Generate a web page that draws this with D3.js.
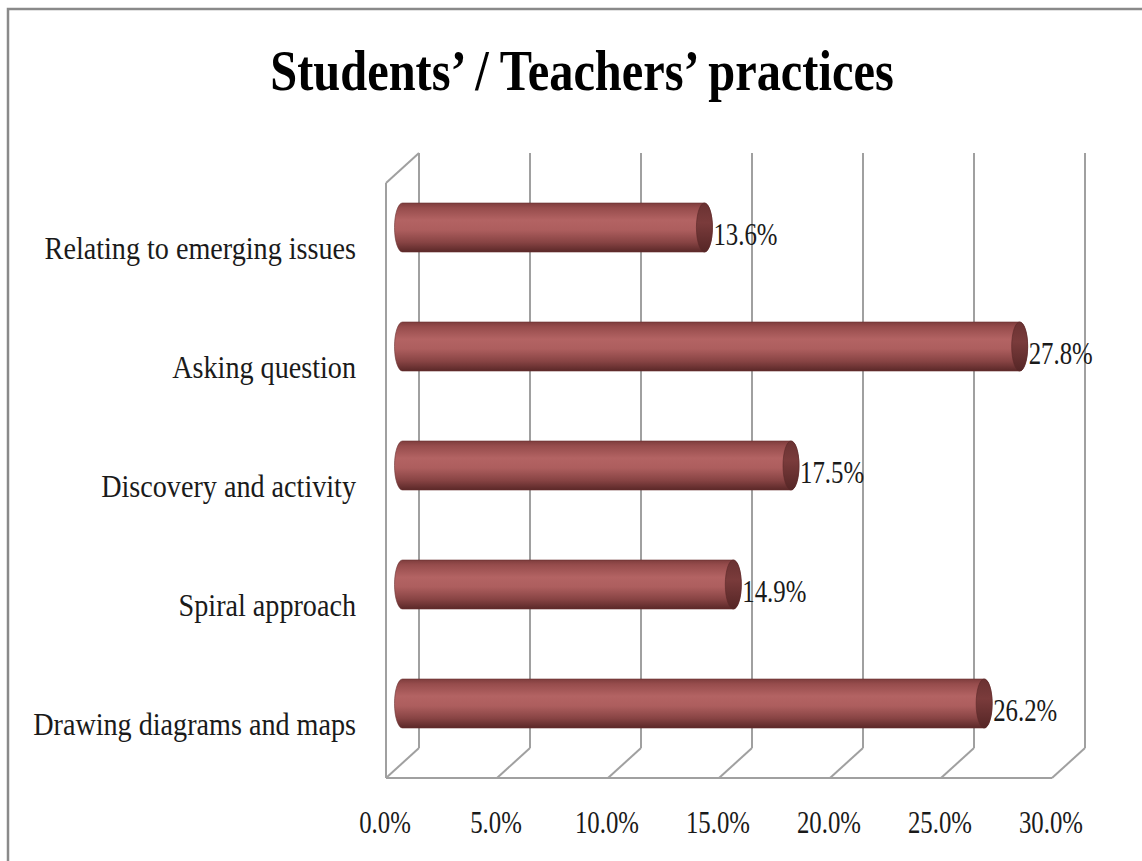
<!DOCTYPE html>
<html>
<head>
<meta charset="utf-8">
<script src="https://cdn.jsdelivr.net/npm/d3@7"></script>
<style>
  html, body { margin: 0; padding: 0; background: #fff; }
  svg { display: block; }
  text { font-family: "Liberation Serif", "DejaVu Serif", serif; fill: #1a1a1a; }
</style>
</head>
<body>
<script>
const title = "Students\u2019 / Teachers\u2019 practices";
const categories = [
  "Relating to emerging issues",
  "Asking question",
  "Discovery and activity",
  "Spiral approach",
  "Drawing diagrams and maps"
];
const values = [13.6, 27.8, 17.5, 14.9, 26.2];
const tickValues = [0, 5, 10, 15, 20, 25, 30];

const W = 1142, H = 861;
const svg = d3.select("body").append("svg").attr("width", W).attr("height", H);

// gradients
const defs = svg.append("defs");
const g1 = defs.append("linearGradient").attr("id", "cyl").attr("x1", 0).attr("y1", 0).attr("x2", 0).attr("y2", 1);
[[0, "#7e3d3d"], [0.1, "#964c4c"], [0.35, "#b36363"], [0.55, "#ad5e5e"], [0.8, "#884444"], [1, "#5a2828"]]
  .forEach(([o, c]) => g1.append("stop").attr("offset", o).attr("stop-color", c));
const g2 = defs.append("linearGradient").attr("id", "cap").attr("x1", 0).attr("y1", 0).attr("x2", 0).attr("y2", 1);
[[0, "#6a3232"], [0.4, "#7a3b3b"], [1, "#552626"]]
  .forEach(([o, c]) => g2.append("stop").attr("offset", o).attr("stop-color", c));

// outer frame
svg.append("rect").attr("x", 8).attr("y", 9).attr("width", W + 20).attr("height", H + 20)
  .attr("fill", "none").attr("stroke", "#8a8a8a").attr("stroke-width", 2.5);

// title
svg.append("text")
  .attr("transform", "translate(582,90) scale(0.835,1)")
  .attr("text-anchor", "middle")
  .attr("font-weight", "bold")
  .attr("font-size", 58)
  .style("fill", "#000")
  .text(title);

// geometry
const plotLeft = 386, plotRight = 1052, plotTop = 183, plotBottom = 778;
const depthX = 33, depthY = -30;
const x = d3.scaleLinear().domain([0, 30]).range([plotLeft, plotRight]);
const y = d3.scaleBand().domain(categories).range([plotTop, plotBottom]).paddingInner(0).paddingOuter(0);

const grid = svg.append("g").attr("stroke", "#a0a0a0").attr("stroke-width", 2).attr("fill", "none");
// back wall gridlines
tickValues.forEach(t => {
  grid.append("line")
    .attr("x1", x(t) + depthX).attr("x2", x(t) + depthX)
    .attr("y1", plotTop + depthY).attr("y2", plotBottom + depthY);
  // floor diagonals
  grid.append("line")
    .attr("x1", x(t)).attr("y1", plotBottom)
    .attr("x2", x(t) + depthX).attr("y2", plotBottom + depthY);
});
// front floor edge
grid.append("line").attr("x1", x(0)).attr("x2", x(30)).attr("y1", plotBottom).attr("y2", plotBottom);
// left wall front edge and top
grid.append("line").attr("x1", x(0)).attr("x2", x(0)).attr("y1", plotTop).attr("y2", plotBottom);
grid.append("line").attr("x1", x(0)).attr("y1", plotTop).attr("x2", x(0) + depthX).attr("y2", plotTop + depthY);

// bars (cylinders at mid depth)
const midX = depthX / 2, midY = depthY / 2;
const barH = 49, rx = 8, ry = barH / 2;
const bars = svg.append("g");
categories.forEach((c, i) => {
  const cy = y(c) + y.bandwidth() / 2 + midY;
  const x0 = x(0) + midX, x1 = x(values[i]) + midX;
  const top = cy - ry, bot = cy + ry;
  const p = `M${x0},${top} L${x1},${top} A${rx},${ry} 0 0 1 ${x1},${bot} L${x0},${bot} A${rx},${ry} 0 0 1 ${x0},${top} Z`;
  bars.append("path").attr("d", p).attr("fill", "url(#cyl)")
    .attr("stroke", "#6a2f2f").attr("stroke-width", 0.6);
  bars.append("ellipse").attr("cx", x1).attr("cy", cy).attr("rx", rx).attr("ry", ry)
    .attr("fill", "url(#cap)").attr("stroke", "#5a2828").attr("stroke-width", 0.6);
  // value label
  svg.append("text")
    .attr("transform", `translate(${x1 + rx + 1},${cy + 17}) scale(0.8,1)`)
    .attr("font-size", 31)
    .text(values[i].toFixed(1) + "%");
});

// category labels
categories.forEach(c => {
  svg.append("text")
    .attr("transform", `translate(356,${y(c) + y.bandwidth() / 2 + 16}) scale(0.88,1)`)
    .attr("text-anchor", "end")
    .attr("font-size", 32)
    .text(c);
});

// x tick labels
tickValues.forEach(t => {
  svg.append("text")
    .attr("transform", `translate(${x(t) - 1},833) scale(0.8,1)`)
    .attr("text-anchor", "middle")
    .attr("font-size", 31)
    .text(t.toFixed(1) + "%");
});
</script>
</body>
</html>
